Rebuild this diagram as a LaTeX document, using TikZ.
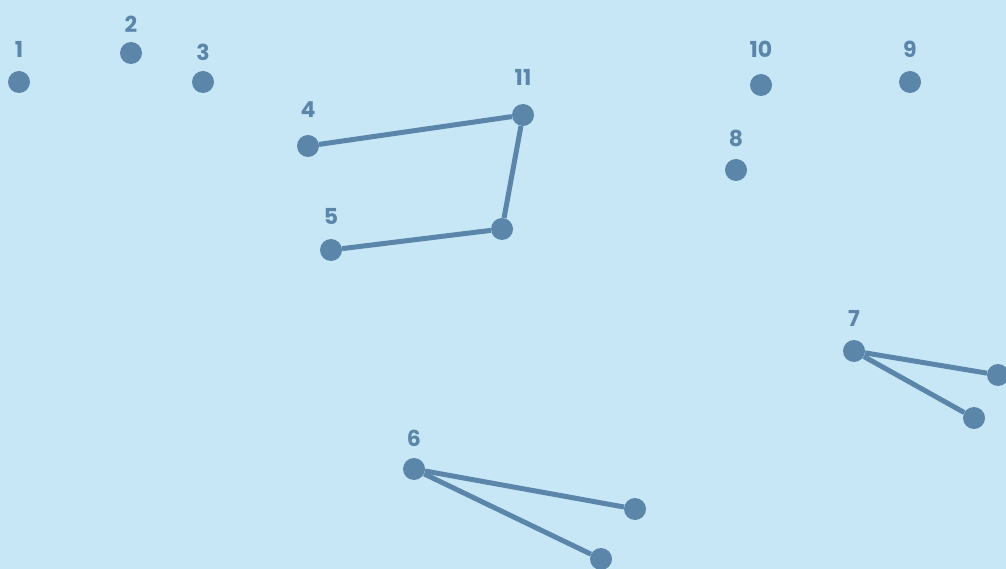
\documentclass[tikz,border=0pt]{standalone}
\usepackage{fontspec}
\setmainfont{Poppins}
\definecolor{skybg}{RGB}{199,231,246}
\definecolor{dotblue}{RGB}{91,134,170}
\tikzset{
  pt/.style={circle, fill=dotblue, minimum size=22pt, inner sep=0pt},
  link/.style={draw=dotblue, line width=5pt},
  every label/.style={text=dotblue, font=\fontsize{22}{22}\selectfont\bfseries, inner sep=0pt},
  label distance=14pt
}
\begin{document}
\begin{tikzpicture}[x=1pt, y=-1pt]
\fill[skybg] (0,0) rectangle (1006,569);
\clip (0,0) rectangle (1006,569);

\node[pt, label={[label distance=13pt]above:1}] (p1) at (19,82) {};
\node[pt, label={[label distance=9pt]above:2}] (p2) at (131,53) {};
\node[pt, label={[label distance=10pt]above:3}] (p3) at (203,82) {};
\node[pt, label={[label distance=17pt]above:4}] (p4) at (308,146) {};
\node[pt, label={[label distance=18pt]above:11}] (p11) at (523,115) {};
\node[pt, label={[label distance=14pt]above:5}] (p5) at (331,250) {};
\node[pt] (p5b) at (502,229) {};
\node[pt, label={[label distance=11pt]above:6}] (p6) at (414,469) {};
\node[pt] (p6a) at (635,509) {};
\node[pt] (p6b) at (601,559) {};
\node[pt, label={[label distance=13pt]above:7}] (p7) at (854,351) {};
\node[pt] (p7a) at (998,375) {};
\node[pt] (p7b) at (974,418) {};
\node[pt, label={[label distance=12pt]above:8}] (p8) at (736,170) {};
\node[pt, label={[label distance=16pt]above:10}] (p10) at (761,85) {};
\node[pt, label={[label distance=13pt]above:9}] (p9) at (910,82) {};

\draw[link] (p4) -- (p11);
\draw[link] (p11) -- (p5b);
\draw[link] (p5b) -- (p5);
\draw[link] (p6) -- (p6a);
\draw[link] (p6) -- (p6b);
\draw[link] (p7) -- (p7a);
\draw[link] (p7) -- (p7b);
\end{tikzpicture}
\end{document}
